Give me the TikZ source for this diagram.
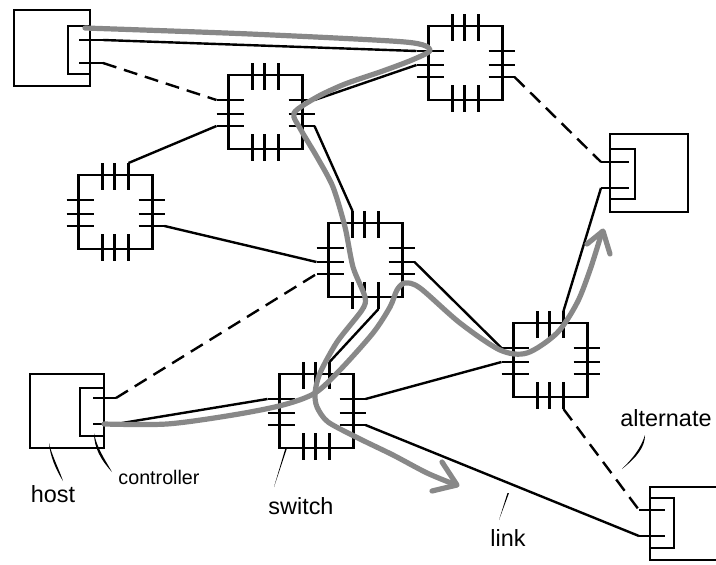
\documentclass[tikz,border=0pt]{standalone}
\usepackage{fontspec}
\setmainfont{Liberation Sans}
\tikzset{
  every picture/.style={x=1pt,y=-1pt},
  wire/.style={line width=2.4pt,black,line cap=butt,line join=miter},
  altwire/.style={wire,dash pattern=on 14pt off 8pt},
  box/.style={draw=black,line width=2.4pt,inner sep=0pt,outer sep=0pt,fill=none},
  switchbox/.style={box,minimum width=74pt,minimum height=74pt},
  route/.style={line width=5.2pt,draw=routegray,line cap=round,line join=round},
  lbl/.style={inner sep=0pt,anchor=base,text=black},
  big/.style={lbl,font=\fontsize{23.4}{26}\selectfont},
  small/.style={lbl,font=\fontsize{19.7}{22}\selectfont},
}
\definecolor{routegray}{HTML}{888888}
\newcommand{\switchat}[3]{%
  \begin{scope}[shift={(#2,#3)}]
    \node[switchbox] (#1) at (37,37) {};
    \foreach \n/\d in {1/24,2/36,3/50}{
      \draw[wire] (\d,-12) coordinate (#1-t\n) -- (\d,15);
      \draw[wire] (\d,59) -- (\d,86) coordinate (#1-b\n);
    }
    \foreach \n/\d in {1/25,2/39,3/51}{
      \draw[wire] (-12,\d) coordinate (#1-l\n) -- (15,\d);
      \draw[wire] (60,\d) -- (86,\d) coordinate (#1-r\n);
    }
  \end{scope}}
\begin{document}
\begin{tikzpicture}
\useasboundingbox (0,0) rectangle (716,565);
% switches
\switchat{sa}{228.5}{75}
\switchat{sb}{78.5}{175}
\switchat{sc}{428.5}{26}
\switchat{sd}{328.5}{223}
\switchat{se}{279.5}{374}
\switchat{sf}{513.5}{323}
% hosts
\node[box,minimum width=76pt,minimum height=76pt] (ha) at (52,48) {};
\node[box,minimum width=22pt,minimum height=48pt] (ca) at (79,50) {};
\draw[wire] (79,40) -- (103,40) coordinate (pa1);
\draw[wire] (79,63) -- (103,63) coordinate (pa2);
\node[box,minimum width=78pt,minimum height=78pt] (hb) at (649,173) {};
\node[box,minimum width=25pt,minimum height=50pt] (cb) at (622.5,174) {};
\draw[wire] (601,162) coordinate (pb1) -- (629,162);
\draw[wire] (601,188) coordinate (pb2) -- (629,188);
\node[box,minimum width=74pt,minimum height=74pt] (hc) at (67,411) {};
\node[box,minimum width=24pt,minimum height=48pt] (cc) at (92,412) {};
\draw[wire] (93,398) -- (116,398) coordinate (pc1);
\draw[wire] (93,424) -- (116,424) coordinate (pc2);
\node[box,minimum width=80pt,minimum height=73pt] (hd) at (690,523.5) {};
\node[box,minimum width=24pt,minimum height=50pt] (cd) at (662,523) {};
\draw[wire] (639,510) coordinate (pd1) -- (665,510);
\draw[wire] (639,536) coordinate (pd2) -- (665,536);
% links
\draw[wire] (pa1) -- (sc-l1);
\draw[altwire] (pa2) -- (sa-l1);
\draw[wire] (sa-r1) -- (sc-l2);
\draw[wire] (sa-l3) -- (sb-t3);
\draw[wire] (sb-r3) -- (sd-l2);
\draw[wire] (sa-r3) -- (sd-t1);
\draw[altwire] (sc-r3) -- (pb1);
\draw[altwire] (pc1) -- (sd-l3);
\draw[wire] (sd-b3) -- (se-t3);
\draw[wire] (sd-r2) -- (sf-l1);
\draw[wire] (sf-t3) -- (pb2);
\draw[wire] (se-r1) -- (sf-l2);
\draw[wire] (se-r3) -- (pd2);
\draw[altwire] (sf-b3) -- (pd1);
\draw[wire] (pc2) -- (se-l1);
% routes
\draw[route] plot[smooth,tension=0.45] coordinates {
  (85,28) (250,34) (405,42) (430,50) (412,60) (380,72) (345,84) (317,97) (294,113)
  (301,130) (317,157) (333,187) (345,227) (353,267) (365,297) (362,310)
  (337,342) (320,373) (315,393) (317,407) (328,422) (360,439) (393,455)
  (427,473) (456,485)};
\draw[route] (442,462) -- (457,485) -- (432,491);
\draw[route] plot[smooth,tension=0.5] coordinates {
  (104,424) (167,424) (233,415) (283,405) (315,393) (340,370) (373,333)
  (390,307) (397,290) (405,283) (420,288) (460,323) (500,350) (527,353)
  (557,333) (577,303) (590,270) (602,232)};
\draw[route] (587,244) -- (603,231) -- (610,254);
% labels
\node[big] (lhost) at (53,502) {host};
\node[small] (lctrl) at (159,484) {controller};
\node[big] (lswitch) at (301,514) {switch};
\node[big] (llink) at (508,546) {link};
\node[big] (lalt) at (666,426) {alternate};
% leaders
\coordinate (ha-tip) at (49,443);
\coordinate (hl-tip) at (63,481);
\fill[black] (ha-tip) .. controls (50,456) and (56,470) .. (hl-tip) .. controls (59,469) and (52,456) .. cycle;
\coordinate (ca-tip) at (94,433);
\coordinate (cl-tip) at (112,472);
\fill[black] (ca-tip) .. controls (94,448) and (101,460) .. (cl-tip) .. controls (104,458) and (97,448) .. cycle;
\coordinate (se-tip) at (287,448);
\coordinate (sl-tip) at (274,487);
\fill[black] (se-tip) -- (285.5,448) -- (sl-tip) -- cycle;
\coordinate (ln-tip) at (509,493);
\coordinate (ll-tip) at (499,520);
\fill[black] (ln-tip) -- (507.5,493) -- (ll-tip) -- cycle;
\coordinate (al-tip) at (645,435);
\coordinate (at-tip) at (622,469);
\fill[black] (al-tip) .. controls (641,448) and (633,458) .. (at-tip) .. controls (637,457) and (645,447) .. cycle;
\end{tikzpicture}
\end{document}
